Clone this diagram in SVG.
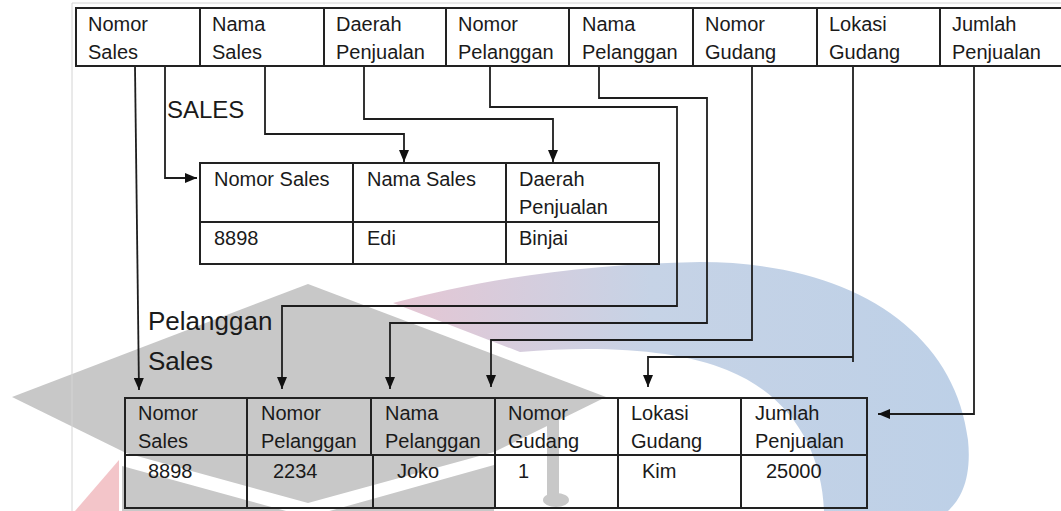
<svg xmlns="http://www.w3.org/2000/svg" width="1061" height="511" viewBox="0 0 1061 511">
<defs>
<linearGradient id="arcGrad" gradientUnits="userSpaceOnUse" x1="390" y1="0" x2="970" y2="0">
<stop offset="0" stop-color="#e6c6d3"/>
<stop offset="0.45" stop-color="#c6d3e6"/>
<stop offset="1" stop-color="#bdd0e7"/>
</linearGradient>
<marker id="arr" markerUnits="userSpaceOnUse" markerWidth="12" markerHeight="10" viewBox="0 0 12 10" refX="12" refY="5" orient="auto">
<path d="M0,0 L12,5 L0,10 z" fill="#111"/>
</marker>
</defs>
<style>
.t{font-family:"Liberation Sans",Arial,sans-serif;font-size:20px;fill:#1a1a1a}
.big{font-family:"Liberation Sans",Arial,sans-serif;fill:#1a1a1a}
.tb{fill:none;stroke:#222;stroke-width:2}
.c{fill:none;stroke:#1e1e1e;stroke-width:1.8}
.wm{fill:#c8c8c8}
</style>
<rect width="1061" height="511" fill="#fff"/>
<g id="watermark">
<path d="M393,303 C480,280 580,264 700,262 C850,262 955,330 968,440 C972,480 960,500 948,511 L824,511 C822,450 790,395 727,370 C680,350 600,345 520,352 Z" fill="url(#arcGrad)"/>
<polygon points="75,511 119,460 119,511" fill="#f3c5c9"/>
<path class="wm" d="M308,284 L606,397 L494,452 L308,503 L126,453 L12,397 Z"/>
<path class="wm" d="M122,466 L308,517 L494,465 L494,511 L122,511 Z"/>
<rect class="wm" x="547" y="413" width="12" height="87"/>
<ellipse class="wm" cx="556" cy="500" rx="13" ry="7"/>
</g>
<g id="page">
<line x1="72" y1="3" x2="1061" y2="3" stroke="#d4d4d4" stroke-width="1"/>
<line x1="72" y1="3" x2="72" y2="511" stroke="#d4d4d4" stroke-width="1"/>
</g>
<g id="source-table">
<path class="tb" d="M1061,8 H76 V66 H1061 M200,8 V66 M324,8 V66 M446,8 V66 M569,8 V66 M693,8 V66 M817,8 V66 M940,8 V66"/>
<text class="t" x="88" y="31">Nomor</text><text class="t" x="88" y="59">Sales</text>
<text class="t" x="212" y="31">Nama</text><text class="t" x="212" y="59">Sales</text>
<text class="t" x="336" y="31">Daerah</text><text class="t" x="336" y="59">Penjualan</text>
<text class="t" x="458" y="31">Nomor</text><text class="t" x="458" y="59">Pelanggan</text>
<text class="t" x="582" y="31">Nama</text><text class="t" x="582" y="59">Pelanggan</text>
<text class="t" x="705" y="31">Nomor</text><text class="t" x="705" y="59">Gudang</text>
<text class="t" x="829" y="31">Lokasi</text><text class="t" x="829" y="59">Gudang</text>
<text class="t" x="952" y="31">Jumlah</text><text class="t" x="952" y="59">Penjualan</text>
</g>
<g id="sales-label"><text class="big" x="167" y="118" font-size="24">SALES</text></g>
<g id="sales-table">
<path class="tb" d="M200,163 H659 V264 H200 Z M200,222 H659 M353,163 V264 M506,163 V264"/>
<text class="t" x="214" y="186">Nomor Sales</text>
<text class="t" x="367" y="186">Nama Sales</text>
<text class="t" x="519" y="186">Daerah</text><text class="t" x="519" y="214">Penjualan</text>
<text class="t" x="214" y="245">8898</text>
<text class="t" x="367" y="245">Edi</text>
<text class="t" x="519" y="245">Binjai</text>
</g>
<g id="pelanggan-label">
<text class="big" x="148" y="330" font-size="26">Pelanggan</text>
<text class="big" x="148" y="370" font-size="26">Sales</text>
</g>
<g id="pelanggan-sales-table">
<path class="tb" d="M125,398 H867 V508 H125 Z M125,455 H867 M247,398 V508 M371,398 V455 M373,455 V508 M495,398 V508 M618,398 V508 M741,398 V508"/>
<text class="t" x="138" y="420">Nomor</text><text class="t" x="138" y="448">Sales</text>
<text class="t" x="261" y="420">Nomor</text><text class="t" x="261" y="448">Pelanggan</text>
<text class="t" x="385" y="420">Nama</text><text class="t" x="385" y="448">Pelanggan</text>
<text class="t" x="508" y="420">Nomor</text><text class="t" x="508" y="448">Gudang</text>
<text class="t" x="631" y="420">Lokasi</text><text class="t" x="631" y="448">Gudang</text>
<text class="t" x="755" y="420">Jumlah</text><text class="t" x="755" y="448">Penjualan</text>
<text class="t" x="148" y="478">8898</text>
<text class="t" x="273" y="478">2234</text>
<text class="t" x="397" y="478">Joko</text>
<text class="t" x="518" y="478">1</text>
<text class="t" x="642" y="478">Kim</text>
<text class="t" x="766" y="478">25000</text>
</g>
<g id="connectors">
<path class="c" d="M135,67 L139,390" marker-end="url(#arr)"/>
<path class="c" d="M165,67 V178 H197" marker-end="url(#arr)"/>
<path class="c" d="M265,67 V134 H404 V162" marker-end="url(#arr)"/>
<path class="c" d="M364,67 V119 H553 V162" marker-end="url(#arr)"/>
<path class="c" d="M490,67 V107 H677 V306 H282 V389" marker-end="url(#arr)"/>
<path class="c" d="M599,67 V98 H707 V323 H390 V389" marker-end="url(#arr)"/>
<path class="c" d="M752,67 V340 H491 V387" marker-end="url(#arr)"/>
<path class="c" d="M853,67 V362"/>
<path class="c" d="M853,357 H648 V387" marker-end="url(#arr)"/>
<path class="c" d="M974,67 V414 H878" marker-end="url(#arr)"/>
</g>
</svg>
